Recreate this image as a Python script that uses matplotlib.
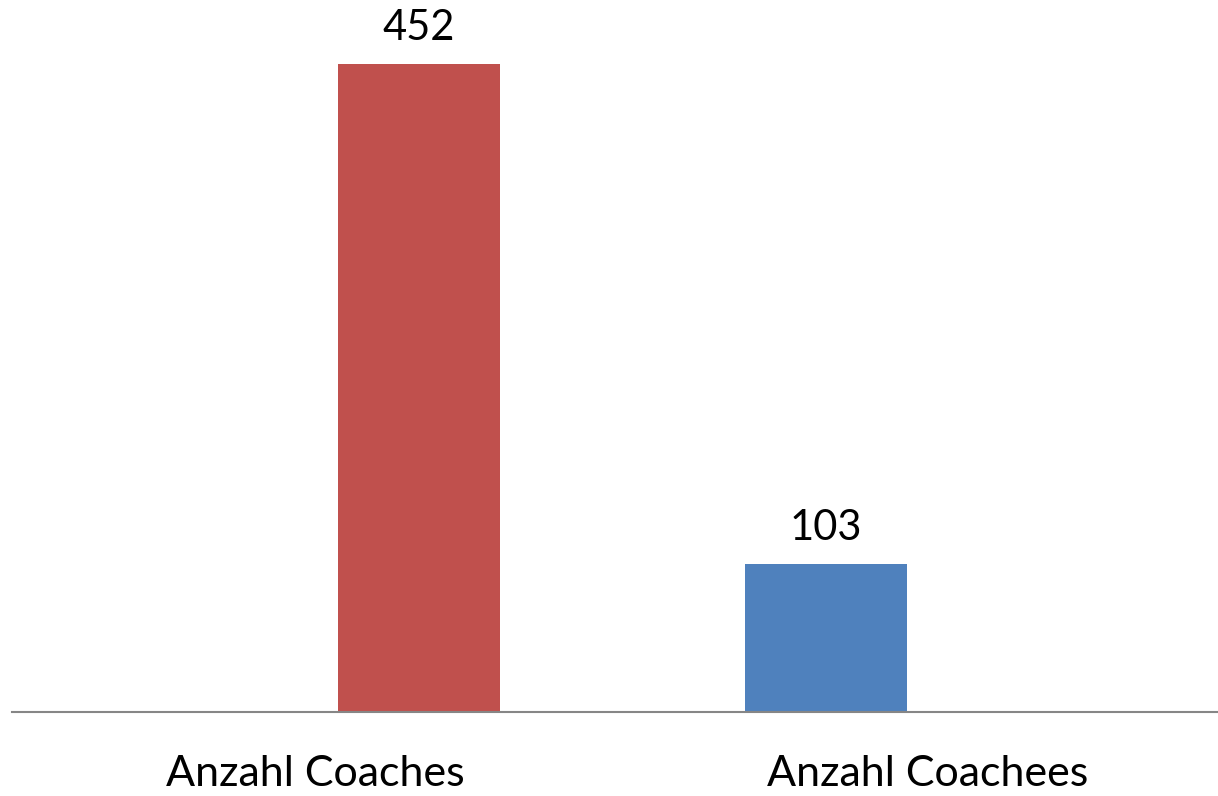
import matplotlib
matplotlib.use('Agg')
import matplotlib.pyplot as plt

categories = ['Anzahl Coaches', 'Anzahl Coachees']
values = [452, 103]
colors = ['#C0504D', '#4F81BD']
offsets = [0.17, -0.167]  # bars sit off-centre of their category, as in the original

plt.rcParams['font.family'] = ['Lato', 'DejaVu Sans']

fig = plt.figure(figsize=(12.18, 7.96), dpi=100)
W, H = 1218, 796
ax = fig.add_axes([12 / W, (H - 712) / H, 1 - 12 / W, (712 - 64) / H])

x = [0, 1]
for xi, v, c, off in zip(x, values, colors, offsets):
    ax.bar(xi + off, v, width=0.264, color=c)
    ax.text(xi + off, v + 12, str(v), ha='center', va='bottom', fontsize=30, clip_on=False)

ax.set_xlim(-0.494, 1.473)
ax.set_ylim(0, max(values))
ax.set_yticks([])
ax.set_xticks(x)
ax.set_xticklabels(categories, fontsize=31)
ax.tick_params(axis='x', length=0, pad=31)
for s in ['top', 'right', 'left']:
    ax.spines[s].set_visible(False)
ax.spines['bottom'].set_color('#868686')
ax.spines['bottom'].set_linewidth(1.5)

fig.savefig('out.png', dpi=100)
